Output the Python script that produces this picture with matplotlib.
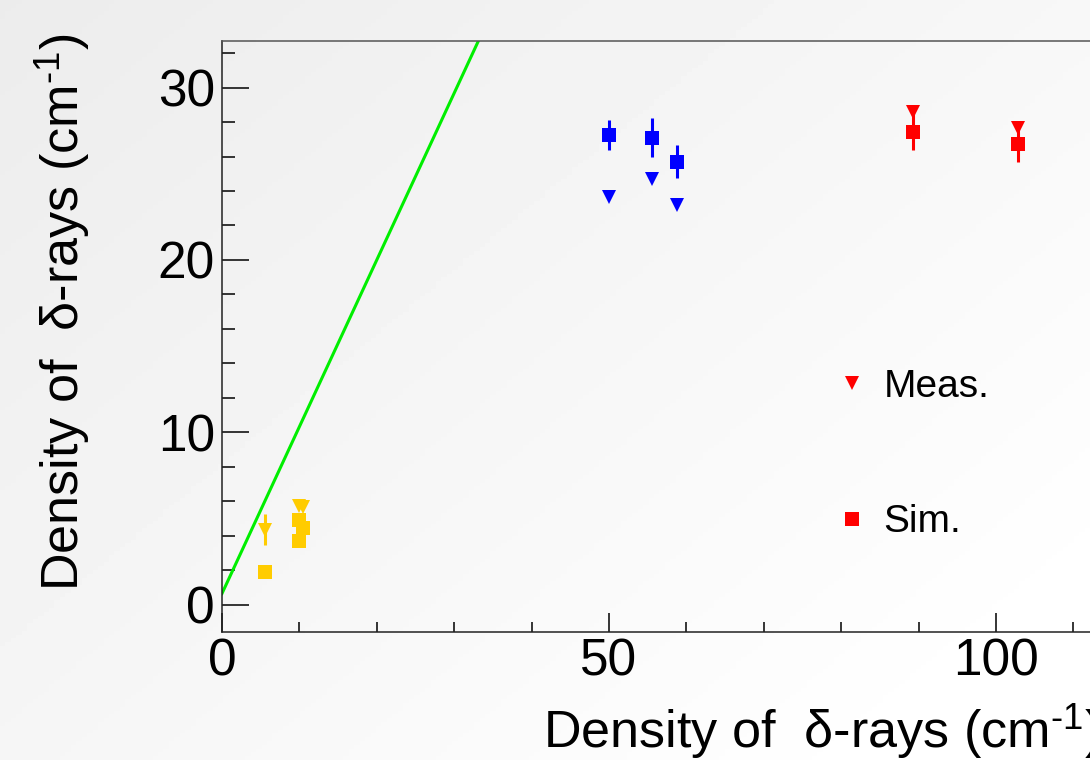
import matplotlib
matplotlib.use("Agg")
import matplotlib.pyplot as plt
import numpy as np
from matplotlib.ticker import MultipleLocator

plt.rcParams['font.family'] = ['Liberation Sans', 'DejaVu Sans']
plt.rcParams['mathtext.fontset'] = 'custom'
plt.rcParams['mathtext.rm'] = 'Liberation Sans'
plt.rcParams['mathtext.it'] = 'Liberation Sans:italic'

# ---- data ----
yellow_meas_x = [5.5, 10.0, 10.5]
yellow_meas_y = [4.35, 5.75, 5.65]
yellow_meas_err = [0.9, 0.0, 0.0]
yellow_sim_x = [5.5, 9.9, 10.5, 9.9]
yellow_sim_y = [1.9, 4.9, 4.45, 3.7]

blue_meas_x = [50.0, 55.6, 58.8]
blue_meas_y = [23.65, 24.7, 23.2]
blue_sim_x = [50.0, 55.6, 58.8]
blue_sim_y = [27.25, 27.1, 25.7]
blue_sim_err = [0.85, 1.15, 0.95]

red_meas_x = [89.3, 102.8]
red_meas_y = [28.6, 27.65]
red_sim_x = [89.3, 102.8]
red_sim_y = [27.45, 26.7]
red_sim_err = [1.05, 1.0]

line_x = [0.0, 34.0]
line_y = [0.65, 33.55]

x_major_ticks = [0, 50, 100]
y_major_ticks = [0, 10, 20, 30]

W, H = 1090, 760
fig = plt.figure(figsize=(W / 100, H / 100), dpi=100)
fig.patch.set_facecolor('#f5f5f5')

# background gradient
bg = fig.add_axes([0, 0, 1, 1], zorder=-10)
gx = np.linspace(0, 1, 200)
gy = np.linspace(0, 1, 200)
GX, GY = np.meshgrid(gx, gy)
grad = 0.925 + 0.075 * np.clip(0.6 * GX + 0.5 * GY, 0, 1)
bg.imshow(grad, cmap='gray', vmin=0, vmax=1, aspect='auto', extent=[0, 1, 0, 1], origin='upper')
bg.axis('off')

xmax = 113.5
px_per_x = 7.74
left = 222 / W
bottom = (H - 632.3) / H
height = (632.3 - 41) / H
width = xmax * px_per_x / W
ax = fig.add_axes([left, bottom, width, height])
ax.set_facecolor('none')
ax.set_xlim(0, xmax)
ax.set_ylim(-1.6, 32.7)

yellow = '#ffcc00'
blue = '#0000ff'
red = '#ff0000'
ms = 10.5

ax.plot(line_x, line_y, color='#00ee00', lw=2.2, zorder=2)

ax.errorbar(yellow_meas_x, yellow_meas_y, yerr=yellow_meas_err, fmt='v', ms=ms,
            color=yellow, ecolor=yellow, elinewidth=2.2, capsize=0, mew=0, zorder=3)
ax.errorbar(yellow_sim_x, yellow_sim_y, fmt='s', ms=ms,
            color=yellow, capsize=0, mew=0, zorder=3)
ax.errorbar(blue_sim_x, blue_sim_y, yerr=blue_sim_err, fmt='s', ms=ms,
            color=blue, ecolor=blue, elinewidth=2.2, capsize=0, mew=0, zorder=3)
ax.errorbar(blue_meas_x, blue_meas_y, fmt='v', ms=ms,
            color=blue, capsize=0, mew=0, zorder=3)
sim_h = ax.errorbar(red_sim_x, red_sim_y, yerr=red_sim_err, fmt='s', ms=ms,
                    color=red, ecolor=red, elinewidth=2.2, capsize=0, mew=0, zorder=3)
meas_h, = ax.plot(red_meas_x, red_meas_y, 'v', ms=ms, color=red, mew=0, zorder=4)

# axes styling
ax.spines['right'].set_visible(False)
for s in ['left', 'bottom', 'top']:
    ax.spines[s].set_linewidth(1.1)
    ax.spines[s].set_color('#222222')
ax.spines['top'].set_color('#555555')

ax.set_xticks(x_major_ticks)
ax.set_yticks(y_major_ticks)
ax.xaxis.set_minor_locator(MultipleLocator(10))
ax.yaxis.set_minor_locator(MultipleLocator(2))
ax.tick_params(axis='x', which='major', direction='in', length=13.7, width=1.1,
               labelsize=37, pad=4, top=False)
ax.tick_params(axis='x', which='minor', direction='in', length=7.2, width=1.1, top=False)
ax.tick_params(axis='y', which='major', direction='in', length=19.2, width=1.1,
               labelsize=37, pad=5, right=False)
ax.tick_params(axis='y', which='minor', direction='in', length=9.6, width=1.1, right=False)

label = r'Density of  δ-rays (cm$^{\text{-}1}$)'
ax.set_xlabel(label, fontsize=37.5, ha='right', va='baseline')
ax.xaxis.set_label_coords(1.0, (632.3 - 748) / (632.3 - 41))
ax.set_ylabel(label, fontsize=37.5, ha='right', va='baseline', rotation=90,
              rotation_mode='anchor')
ax.yaxis.set_label_coords((79 - 222) / (xmax * px_per_x), (632.3 - 34) / (632.3 - 41))

leg = ax.legend([meas_h, sim_h[0]], ['Meas.', 'Sim.'], loc='upper left',
                bbox_to_anchor=(833 / W, (H - 369) / H), bbox_transform=fig.transFigure,
                frameon=False, fontsize=28, handlelength=1.0, handletextpad=0.3,
                labelspacing=2.55, borderpad=0, borderaxespad=0, markerscale=0.95)

fig.savefig('out.png', dpi=100, facecolor=fig.get_facecolor())
